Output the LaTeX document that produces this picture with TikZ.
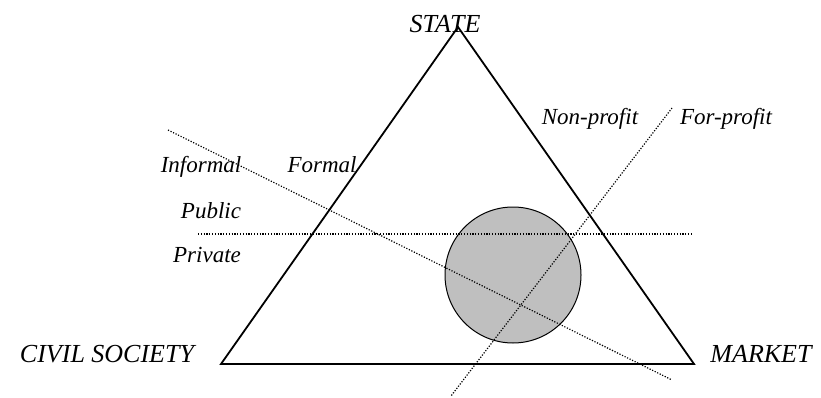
\documentclass[tikz,border=0pt]{standalone}
\usepackage{fontspec}
\setmainfont{Liberation Serif}
\usepackage{tikz}

\begin{document}
\begin{tikzpicture}[x=1pt,y=-1pt,
  side/.style={line width=1.8pt,line join=miter},
  split/.style={line width=1.2pt,dash pattern=on 1.2pt off 1.6pt},
  lab/.style={font=\fontsize{23}{25}\selectfont\itshape,inner sep=0pt,anchor=base},
  corner/.style={lab,font=\fontsize{26}{28}\selectfont\itshape}]
\useasboundingbox (0,0) rectangle (821,398);
% corners of the triangle
\coordinate (st) at (458,27);
\coordinate (cs) at (221,364);
\coordinate (mk) at (694,364);
% ends of the dotted dividers
\coordinate (pub1) at (198,234);
\coordinate (pub2) at (692,234);
\coordinate (inf1) at (168,130);
\coordinate (inf2) at (672,380);
\coordinate (npf1) at (672,108);
\coordinate (npf2) at (451,396);
% overlap of the three sectors
\node[draw,circle,fill=black!25,line width=1pt,minimum size=136pt,inner sep=0pt] (mix) at (513,275) {};
\draw[side] (st) -- (mk) -- (cs) -- cycle;
\draw[split] (pub1) -- (pub2);
\draw[split] (inf1) -- (inf2);
\draw[split] (npf1) -- (npf2);
% corner titles
\node[corner] (state) at (445,33) {STATE};
\node[corner] (civil) at (107,362) {CIVIL SOCIETY};
\node[corner] (market) at (761,362) {MARKET};
% divider labels
\node[lab] (nonp) at (590,125) {Non-profit};
\node[lab] (forp) at (726,125) {For-profit};
\node[lab] (infl) at (201,173) {Informal};
\node[lab] (forml) at (322,173) {Formal};
\node[lab] (publ) at (211,218) {Public};
\node[lab] (priv) at (207,262) {Private};
\end{tikzpicture}
\end{document}
